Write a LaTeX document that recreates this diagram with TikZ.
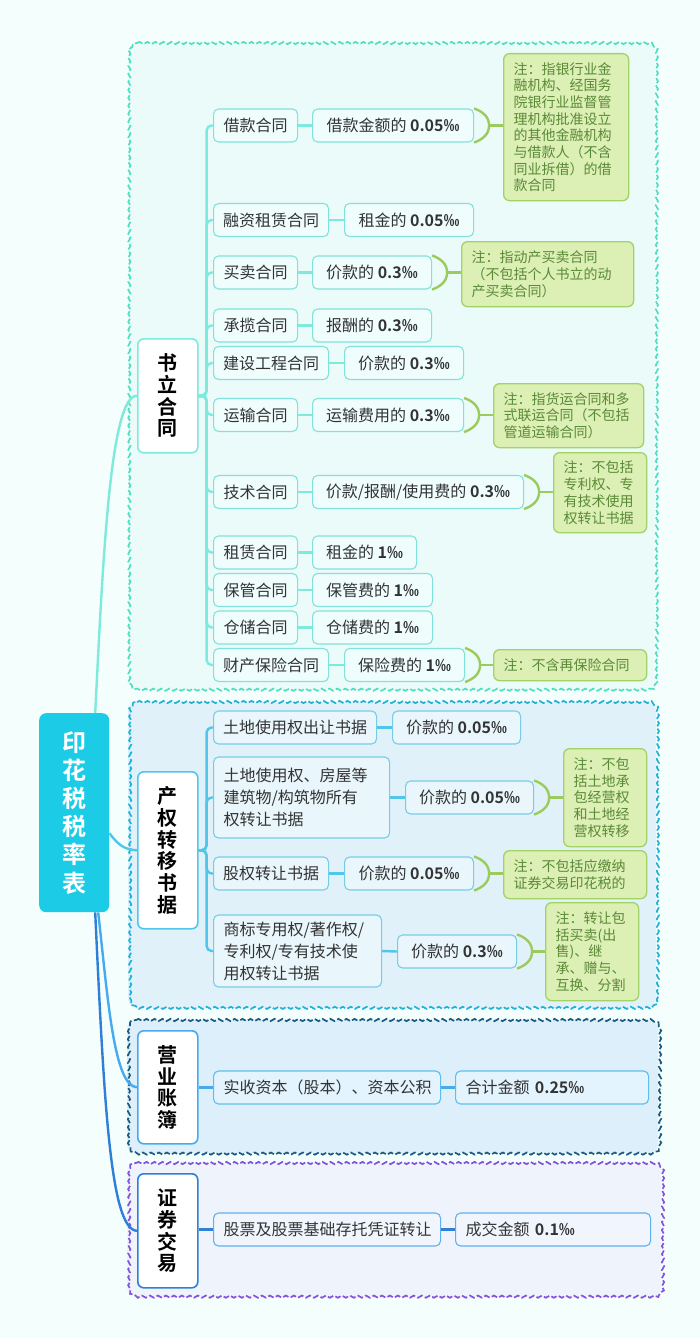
\documentclass[tikz,border=0pt]{standalone}
\usepackage{fontspec}
\setmainfont{Noto Sans CJK SC}[BoldFont={Noto Sans CJK SC Bold}]
\usetikzlibrary{calc,decorations.pathmorphing}
\definecolor{bg}{HTML}{F4FEFD}
\definecolor{txt}{HTML}{333333}
\definecolor{rootc}{HTML}{1CCBE6}
\definecolor{gaf}{HTML}{EAFBFA}\definecolor{gab}{HTML}{52DFC0}\definecolor{gal}{HTML}{7EEADB}\definecolor{gai}{HTML}{82E2DA}\definecolor{gaif}{HTML}{F0FDFD}
\definecolor{gbf}{HTML}{E1F1FA}\definecolor{gbb}{HTML}{22B2D8}\definecolor{gbl}{HTML}{50C6EA}\definecolor{gbi}{HTML}{78CDE6}\definecolor{gbif}{HTML}{E9F6FB}
\definecolor{gcf}{HTML}{DCEFFB}\definecolor{gcb}{HTML}{1C5A7E}\definecolor{gcl}{HTML}{46AAF0}\definecolor{gci}{HTML}{5DBDF0}\definecolor{gcif}{HTML}{E4F4FE}
\definecolor{gdf}{HTML}{EEF3FC}\definecolor{gdb}{HTML}{8452DE}\definecolor{gdl}{HTML}{2F7FD6}\definecolor{gdi}{HTML}{60B0EE}\definecolor{gdif}{HTML}{F1F6FE}
\definecolor{nf}{HTML}{DCEFB5}\definecolor{nb}{HTML}{A3D267}\definecolor{nt}{HTML}{5A8A37}\definecolor{brkc}{HTML}{9CCB5D}
\tikzset{
  grpborder/.style={decorate, decoration={snake, amplitude=1.1pt, segment length=8pt}, dash pattern=on 6pt off 2.5pt, line width=1.7pt},
  itm/.style={draw, rounded corners=5pt, line width=1.1pt, inner xsep=0pt, inner ysep=0pt, minimum height=33pt, text=txt, font=\fontsize{16}{22}\selectfont, anchor=west},
  mitm/.style={itm, align=left, inner xsep=10pt},
  itmA/.style={itm, draw=gai, fill=gaif},
  itmB/.style={itm, draw=gbi, fill=gbif},
  mitmB/.style={mitm, draw=gbi, fill=gbif},
  itmC/.style={mitm, draw=gci, fill=gcif},
  itmD/.style={mitm, draw=gdi, fill=gdif},
  catbox/.style={draw, fill=white, rounded corners=6pt, line width=1.6pt, minimum width=60pt, text=black, font=\bfseries\fontsize{20}{21.7}\selectfont, align=center, inner sep=0pt, anchor=north west},
  notebox/.style={draw=nb, fill=nf, line width=1.3pt, rounded corners=6pt, text=nt, font=\fontsize{14}{16.7}\selectfont, align=left, inner xsep=10pt, inner ysep=0pt, anchor=north west},
  brk/.style={draw=brkc, line width=2.4pt},
  lnA/.style={draw=gal, line width=2.4pt, rounded corners=5pt},
  lnB/.style={draw=gbl, line width=2.4pt, rounded corners=5pt},
  lnC/.style={draw=gcl, line width=2.4pt, rounded corners=5pt},
  lnD/.style={draw=gdl, line width=2.4pt, rounded corners=5pt},
}
\newcommand{\bracketto}[2]{%
  \draw[brk] (#1.north east) to[out=-20,in=90] ($(#1.east)+(15,0)$) to[out=-90,in=20] (#1.south east);
  \draw[brk] ($(#1.east)+(15,0)$) -- (#2.west |- #1.east);}
% wavy dashed group: fill, border, x1,y1,x2,y2
\newcommand{\wavygroup}[6]{%
  \fill[#1, rounded corners=9pt] (#3,#4) rectangle (#5,#6);
  \draw[grpborder, draw=#2] ({#3+9},#4) -- ({#5-9},#4) arc[start angle=90,end angle=0,radius=9pt]
    -- (#5,{#6-9}) arc[start angle=0,end angle=-90,radius=9pt]
    -- ({#3+9},#6) arc[start angle=-90,end angle=-180,radius=9pt]
    -- (#3,{#4+9}) arc[start angle=180,end angle=90,radius=9pt] -- cycle;}
\begin{document}
\begin{tikzpicture}[x=1pt,y=-1pt]
\fill[bg] (0,0) rectangle (700,1338);
\useasboundingbox (0,0) rectangle (700,1338);
% groups
\wavygroup{gaf}{gab}{128}{43}{655}{690}
\wavygroup{gbf}{gbb}{128}{702}{656}{1008}
\wavygroup{gcf}{gcb}{127}{1020}{658}{1153}
\wavygroup{gdf}{gdb}{127}{1163}{661}{1297}

% root
\node[fill=rootc, rounded corners=7pt, minimum width=70pt, minimum height=199pt, inner sep=0pt, text=white, font=\bfseries\fontsize{24}{28.2}\selectfont, align=center, anchor=north west] (root) at (39,713) {印\\花\\税\\税\\率\\表};

% categories
\node[catbox, draw=gal, minimum height=114pt] (ca) at (137,338) {书\\立\\合\\同};
\node[catbox, draw=gbl, minimum height=157pt] (cb) at (137,771) {产\\权\\转\\移\\书\\据};
\node[catbox, draw=gcl, minimum height=113pt] (cc) at (137,1030) {营\\业\\账\\簿};
\node[catbox, draw=gdl, minimum height=114pt] (cd) at (137,1173) {证\\券\\交\\易};

% root connectors
\draw[lnA] ([xshift=21pt]root.north) .. controls (103,560) and (110,395) .. (ca.west);
\draw[lnB] ([yshift=-20.5pt]root.east) .. controls (119,846) and (125,849.5) .. (cb.west);
\draw[lnC] ([xshift=24pt]root.south) .. controls (108,1000) and (114,1086.5) .. (cc.west);
\draw[lnD] ([xshift=21pt]root.south) .. controls (104,1100) and (110,1230) .. (cd.west);

% group A items
\node[itmA, minimum width=84pt] (a1) at (213,125.5) {借款合同};
\node[itmA, minimum width=115pt] (a2) at (213,220) {融资租赁合同};
\node[itmA, minimum width=84pt] (a3) at (213,272.5) {买卖合同};
\node[itmA, minimum width=84pt] (a4) at (213,325.5) {承揽合同};
\node[itmA, minimum width=115pt] (a5) at (213,363) {建设工程合同};
\node[itmA, minimum width=84pt] (a6) at (213,415) {运输合同};
\node[itmA, minimum width=84pt] (a7) at (213,492) {技术合同};
\node[itmA, minimum width=84pt] (a8) at (213,552.5) {租赁合同};
\node[itmA, minimum width=84pt] (a9) at (213,590) {保管合同};
\node[itmA, minimum width=84pt] (a10) at (213,627.5) {仓储合同};
\node[itmA, minimum width=115pt] (a11) at (213,665) {财产保险合同};

\node[itmA, minimum width=161pt] (v1) at (312,125.5) {借款金额的 \textbf{0.05‰}};
\node[itmA, minimum width=129pt] (v2) at (344,220) {租金的 \textbf{0.05‰}};
\node[itmA, minimum width=119pt] (v3) at (312,272.5) {价款的 \textbf{0.3‰}};
\node[itmA, minimum width=119pt] (v4) at (312,325.5) {报酬的 \textbf{0.3‰}};
\node[itmA, minimum width=119pt] (v5) at (344,363) {价款的 \textbf{0.3‰}};
\node[itmA, minimum width=151pt] (v6) at (312,415) {运输费用的 \textbf{0.3‰}};
\node[itmA, minimum width=211pt] (v7) at (312,492) {价款/报酬/使用费的 \textbf{0.3‰}};
\node[itmA, minimum width=104pt] (v8) at (312,552.5) {租金的 \textbf{1‰}};
\node[itmA, minimum width=120pt] (v9) at (312,590) {保管费的 \textbf{1‰}};
\node[itmA, minimum width=120pt] (v10) at (312,627.5) {仓储费的 \textbf{1‰}};
\node[itmA, minimum width=120pt] (v11) at (344,665) {保险费的 \textbf{1‰}};

\foreach \i in {1,...,11} {
  \draw[lnA] (ca.east) -- ++(8,0) |- (a\i.west);
  \draw[lnA] (a\i.east) -- (v\i.west);
}

% notes A
\node[notebox, text width=105pt, minimum width=125pt, minimum height=147pt] (n1) at (503,53) {注：指银行业金\\融机构、经国务\\院银行业监督管\\理机构批准设立\\的其他金融机构\\与借款人（不含\\同业拆借）的借\\款合同};
\node[notebox, text width=152pt, minimum width=172pt, minimum height=65pt] (n2) at (461,241) {注：指动产买卖合同\\（不包括个人书立的动\\产买卖合同）};
\node[notebox, text width=130pt, minimum width=150pt, minimum height=64pt] (n3) at (493,383) {注：指货运合同和多\\式联运合同（不包括\\管道运输合同）};
\node[notebox, text width=73pt, minimum width=93pt, minimum height=80pt] (n4) at (553,452) {注：不包括\\专利权、专\\有技术使用\\权转让书据};
\node[notebox, text width=133pt, minimum width=153pt, minimum height=31pt] (n5) at (493,649) {注：不含再保险合同};
\bracketto{v1}{n1}
\bracketto{v3}{n2}
\bracketto{v6}{n3}
\bracketto{v7}{n4}
\bracketto{v11}{n5}

% group B items
\node[itmB, minimum width=163pt] (b1) at (213,727.5) {土地使用权出让书据};
\node[mitmB, text width=156pt, minimum height=81pt] (b2) at (213,797.5) {土地使用权、房屋等\\建筑物/构筑物所有\\权转让书据};
\node[itmB, minimum width=115pt] (b3) at (213,873.5) {股权转让书据};
\node[mitmB, text width=148pt, minimum height=72pt] (b4) at (213,951) {商标专用权/著作权/\\专利权/专有技术使\\用权转让书据};

\node[itmB, minimum width=128pt] (w1) at (392,727.5) {价款的 \textbf{0.05‰}};
\node[itmB, minimum width=128pt] (w2) at (405,797.5) {价款的 \textbf{0.05‰}};
\node[itmB, minimum width=129pt] (w3) at (344,873.5) {价款的 \textbf{0.05‰}};
\node[itmB, minimum width=119pt] (w4) at (397,951.5) {价款的 \textbf{0.3‰}};

\foreach \i in {1,...,4} {
  \draw[lnB] (cb.east) -- ++(8,0) |- (b\i.west);
  \draw[lnB] (b\i.east) -- (w\i.west);
}

\node[notebox, text width=63pt, minimum width=83pt, minimum height=98pt] (n6) at (563,748) {注：不包\\括土地承\\包经营权\\和土地经\\营权转移};
\node[notebox, text width=123pt, minimum width=143pt, minimum height=48pt] (n7) at (503,850) {注：不包括应缴纳\\证券交易印花税的};
\node[notebox, text width=73pt, minimum width=93pt, minimum height=98pt] (n8) at (545,902) {注：转让包\\括买卖(出\\售)、继\\承、赠与、\\互换、分割};
\bracketto{w2}{n6}
\bracketto{w3}{n7}
\bracketto{w4}{n8}

% group C
\node[itmC, text width=207pt] (c1) at (213,1087.5) {实收资本（股本）、资本公积};
\node[itmC, text width=173pt] (x1) at (455,1087.5) {合计金额 \textbf{0.25‰}};
\draw[lnC] (cc.east |- c1.west) -- (c1.west);
\draw[lnC] (c1.east) -- (x1.west);

% group D
\node[itmD, text width=207pt] (d1) at (213,1229.5) {股票及股票基础存托凭证转让};
\node[itmD, text width=175pt] (y1) at (455,1229.5) {成交金额 \textbf{0.1‰}};
\draw[lnD] (cd.east |- d1.west) -- (d1.west);
\draw[lnD] (d1.east) -- (y1.west);
\end{tikzpicture}
\end{document}
